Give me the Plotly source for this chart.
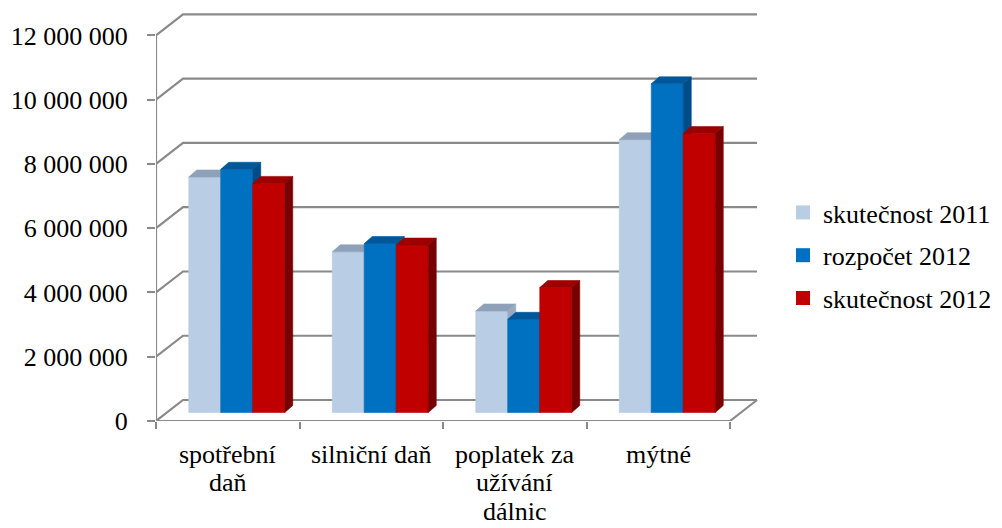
import plotly.graph_objects as go

# ---------------- data ----------------
categories = ["spotřební daň", "silniční daň", "poplatek za užívání dálnic", "mýtné"]
category_lines = [["spotřební", "daň"], ["silniční daň"], ["poplatek za", "užívání", "dálnic"], ["mýtné"]]
series_names = ["skutečnost 2011", "rozpočet 2012", "skutečnost 2012"]
skutecnost_2011 = [7330000, 5000000, 3160000, 8490000]
rozpocet_2012 = [7570000, 5260000, 2900000, 10230000]
skutecnost_2012 = [7130000, 5210000, 3890000, 8680000]
y_ticks = [0, 2000000, 4000000, 6000000, 8000000, 10000000, 12000000]
y_ticktext = ["0", "2 000 000", "4 000 000", "6 000 000", "8 000 000", "10 000 000", "12 000 000"]

series_values = [skutecnost_2011, rozpocet_2012, skutecnost_2012]
front_colors = ["#B9CDE5", "#0070C0", "#C00000"]
top_colors = ["#8FA1B8", "#00589A", "#9C0000"]
side_colors = ["#98AAC0", "#004C86", "#780000"]

FONT = "Liberation Serif, Times New Roman, serif"

# ---------------- geometry (pixel scale -> data units) ----------------
# page has an 8px body margin, so the figure is 994x520
PX_PER_CAT = 143.5
PX_PER_VAL = 32.13e-6
W, H = 994, 520
ML, MT, MB = 148, 0, 107
PLOT_W = 612
PLOT_H = H - MT - MB

def ux(px):
    return px / PX_PER_CAT

def uy(px):
    return px / PX_PER_VAL

wall_dx, wall_dy = ux(27), uy(21)     # back wall offset
bar_dx, bar_dy = ux(9), uy(8.5)       # bar front face depth offset
dep_dx, dep_dy = ux(8), uy(7)         # bar depth
bar_w = ux(32)
ncat = len(categories)

fig = go.Figure()

grid_color = "#8A8A8A"
gx, gy = [], []
for v in y_ticks:
    gx += [0, wall_dx, ncat + wall_dx, None]
    gy += [v, v + wall_dy, v + wall_dy, None]
gx += [0, ncat, ncat + wall_dx, None]
gy += [0, 0, wall_dy, None]
gx += [0, 0]
gy += [0, y_ticks[-1]]
fig.add_trace(go.Scatter(x=gx, y=gy, mode="lines", line=dict(color=grid_color, width=2.2),
                         hoverinfo="skip", showlegend=False))

for k, vals in enumerate(series_values):
    fx, fy, tx, ty, sx, sy = [], [], [], [], [], []
    for i, v in enumerate(vals):
        x0 = i + 0.5 + bar_dx - 1.5 * bar_w + k * bar_w
        x1 = x0 + bar_w
        b = bar_dy
        t = bar_dy + v
        fx += [x0, x1, x1, x0, x0, None]
        fy += [b, b, t, t, b, None]
        tx += [x0, x1, x1 + dep_dx, x0 + dep_dx, x0, None]
        ty += [t, t, t + dep_dy, t + dep_dy, t, None]
        sx += [x1, x1, x1 + dep_dx, x1 + dep_dx, x1, None]
        sy += [b, t, t + dep_dy, b + dep_dy, b, None]
    for xs, ys, col in [(fx, fy, front_colors[k]), (tx, ty, top_colors[k]), (sx, sy, side_colors[k])]:
        fig.add_trace(go.Scatter(x=xs, y=ys, mode="lines", fill="toself", fillcolor=col,
                                 line=dict(color=col, width=0.6), hoverinfo="skip", showlegend=False))

for k, name in enumerate(series_names):
    fig.add_trace(go.Scatter(x=[None], y=[None], mode="markers", name=name,
                             marker=dict(symbol="square", size=14, color=front_colors[k]),
                             legendgroup=f"g{k}"))

for i, lines in enumerate(category_lines):
    for j, line in enumerate(lines):
        fig.add_annotation(x=i + 0.5, y=0, xref="x", yref="y", text=line, showarrow=False,
                           xanchor="center", yanchor="middle", yshift=-(33 + 28.5 * j),
                           font=dict(family=FONT, size=26, color="black"))

fig.update_layout(
    width=W, height=H,
    margin=dict(l=ML, r=W - ML - PLOT_W, t=MT, b=MB, autoexpand=False),
    plot_bgcolor="white", paper_bgcolor="white",
    font=dict(family=FONT, size=26, color="black"),
    xaxis=dict(range=[0, ux(PLOT_W)], showgrid=False, zeroline=False, showline=False,
               showticklabels=False, ticks="", tickvals=[], automargin=False,
               minor=dict(tick0=0, dtick=1, ticks="outside", ticklen=7, tickcolor=grid_color, tickwidth=2, showgrid=False)),
    yaxis=dict(range=[0, uy(PLOT_H)], showgrid=False, zeroline=False, showline=False, automargin=False,
               tickvals=y_ticks, ticktext=y_ticktext, ticks="outside", ticklen=8,
               tickcolor=grid_color, tickwidth=2, ticklabelstandoff=14,
               tickfont=dict(family=FONT, size=26, color="black")),
    legend=dict(xref="container", yref="container", x=(815 - 40) / W, y=1 - 181 / H,
                xanchor="left", yanchor="top",
                font=dict(family=FONT, size=26, color="black"),
                tracegroupgap=6, bgcolor="rgba(0,0,0,0)"),
    showlegend=True,
)

fig.write_html("out.html")
